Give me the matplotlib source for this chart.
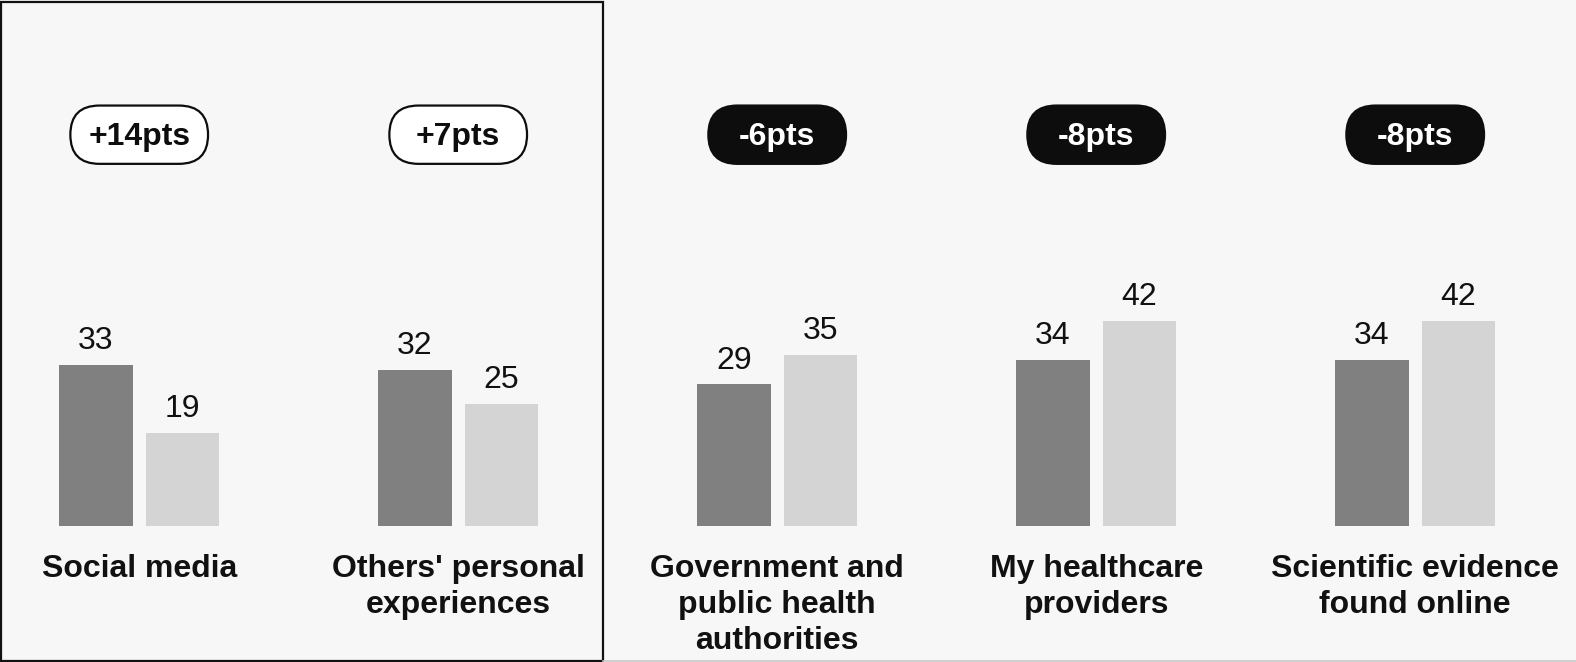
import matplotlib
matplotlib.use("Agg")
import matplotlib.pyplot as plt
from matplotlib.patches import FancyBboxPatch, Rectangle

# Share (%) citing each source as most trusted, earlier vs. later wave
categories = [
    "Social media",
    "Others' personal\nexperiences",
    "Government and\npublic health\nauthorities",
    "My healthcare\nproviders",
    "Scientific evidence\nfound online",
]
series_a = [33, 32, 29, 34, 34]
series_b = [19, 25, 35, 42, 42]
changes = ["+14pts", "+7pts", "-6pts", "-8pts", "-8pts"]

W, H = 1576, 662
DPI = 100
BG = "#f7f7f7"
DARK = "#808080"
LIGHT = "#d4d4d4"
FONT = "Liberation Sans"

plt.rcParams["font.family"] = [FONT, "DejaVu Sans"]

fig = plt.figure(figsize=(W / DPI, H / DPI), dpi=DPI, facecolor=BG)

# Main bar axes: baseline 526 px from top, 4.88 px per percentage point
base_px = 526.0
px_per_unit = 4.88
ax = fig.add_axes([0, (H - base_px) / H, 1, base_px / H])
ax.set_facecolor("none")
ax.set_ylim(0, base_px / px_per_unit)

center0 = 139.2
spacing = 319.0
ax.set_xlim(-center0 / spacing, (W - center0) / spacing)

bar_w = 73.4 / spacing
offset = 43.2 / spacing
xs = list(range(len(categories)))

bars_a = ax.bar([x - offset for x in xs], series_a, width=bar_w, color=DARK, linewidth=0)
bars_b = ax.bar([x + offset for x in xs], series_b, width=bar_w, color=LIGHT, linewidth=0)

for bars, vals in ((bars_a, series_a), (bars_b, series_b)):
    for b, v in zip(bars, vals):
        ax.annotate(f"{v}", (b.get_x() + b.get_width() / 2, v),
                    xytext=(0, 11.5), textcoords="offset points",
                    ha="center", va="baseline", fontsize=23, color="#111111")

ax.axis("off")

# Overlay in pixel coordinates for the badges, labels and frame
ov = fig.add_axes([0, 0, 1, 1])
ov.set_xlim(0, W)
ov.set_ylim(H, 0)
ov.set_facecolor("none")
ov.axis("off")

fig.canvas.draw()
to_px = lambda i: ax.transData.transform((i, 0))[0]

pill_w, pill_h, pill_y = 137.7, 58.3, 134.7
for i, txt in enumerate(changes):
    cx = to_px(i)
    positive = txt.startswith("+")
    face = "white" if positive else "#0d0d0d"
    tcol = "#0d0d0d" if positive else "white"
    pill = FancyBboxPatch((cx - pill_w / 2, pill_y - pill_h / 2), pill_w, pill_h,
                          boxstyle=f"round,pad=0,rounding_size={pill_h / 2}",
                          facecolor=face, edgecolor="#0d0d0d", linewidth=1.6,
                          mutation_aspect=1)
    ov.add_patch(pill)
    ov.text(cx, pill_y + 2, txt, ha="center", va="center", fontsize=23,
            fontweight="bold", color=tcol)

for i, lab in enumerate(categories):
    ov.text(to_px(i), 554, lab, ha="center", va="top", fontsize=23,
            fontweight="bold", color="#111111", linespacing=1.27)

# Frame around the two rising sources
ov.add_patch(Rectangle((1.5, 1.5), 601.5, 659, fill=False, edgecolor="#111111",
                       linewidth=1.6))
ov.plot([603, W], [661, 661], color="#c8c8c8", linewidth=1.2)

fig.savefig("out.png", dpi=DPI, facecolor=BG)
